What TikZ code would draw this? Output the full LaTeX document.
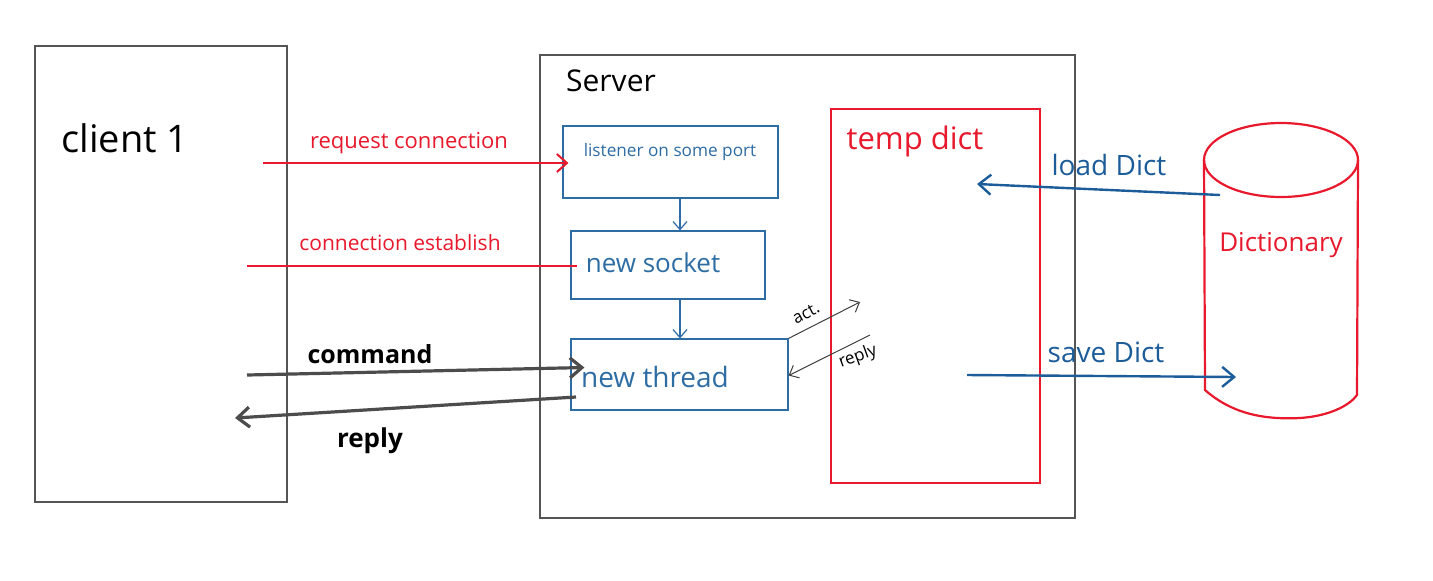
\documentclass[tikz,border=0pt]{standalone}
\usepackage{fontspec}
\setmainfont{Open Sans}
\usetikzlibrary{arrows.meta,fit,calc}
\definecolor{hred}{HTML}{E8192C}
\definecolor{hblue}{HTML}{2E6DA4}
\definecolor{dblue}{HTML}{1B5C99}
\definecolor{hgray}{HTML}{555555}
\newcommand{\myfs}[1]{\fontsize{#1}{#1}\selectfont}
\tikzset{
  frame/.style={draw=hgray, line width=0.6pt, inner sep=0pt},
  bluebox/.style={draw=hblue, line width=0.6pt, inner sep=0pt},
  redbox/.style={draw=hred, line width=1.1pt, inner sep=0pt},
  redarrow/.style={hred, line width=1pt, -{Straight Barb[length=5pt,width=9pt]}},
  redline/.style={hred, line width=1pt},
  bluearrow/.style={hblue, line width=0.6pt, -{Straight Barb[length=4pt,width=7pt]}},
  dictarrow/.style={dblue, line width=1.2pt, -{Straight Barb[length=6pt,width=10pt]}},
  grayarrow/.style={hgray!90!black, line width=1.6pt, -{Straight Barb[length=6pt,width=10pt]}},
  thinarrow/.style={black!75, line width=0.5pt, -{Straight Barb[length=4pt,width=7pt]}},
  lbl/.style={inner sep=0pt}
}
\begin{document}
\begin{tikzpicture}[x=0.5pt,y=-0.5pt]
\useasboundingbox (0,0) rectangle (1433,580);
\fill[white] (0,0) rectangle (1433,580);
% client
\node[frame, fit={(35,46) (287,502)}] (client) {};
\node[lbl, text=black] (clientlbl) at (125,138) {\myfs{19}client 1};
% server
\node[frame, fit={(540,55) (1075,518)}] (server) {};
\node[lbl, text=black] (serverlbl) at (611,81) {\myfs{15}Server};
% inner boxes
\node[bluebox, fit={(563,126) (778,198)}] (listener) {};
\node[lbl, text=hblue] (listenerlbl) at (670,152) {\myfs{8.6}listener on some port};
\node[bluebox, fit={(571,231) (765,299)}] (socket) {};
\node[lbl, text=hblue] (socketlbl) at (653,263) {\myfs{13}new socket};
\node[bluebox, fit={(571,339) (788,410)}] (thread) {};
\node[lbl, text=hblue] (threadlbl) at (655,377) {\myfs{14}new thread};
% temp dict
\node[redbox, fit={(831,109) (1040,483)}] (temp) {};
\node[lbl, text=hred] (templbl) at (915,141) {\myfs{15.5}temp dict};
% dictionary cylinder
\draw[hred, line width=1.1pt] (1281,160) ellipse [x radius=77, y radius=37];
\draw[hred, line width=1.1pt] (1204,160) -- (1205,390) .. controls (1230,412) and (1260,420) .. (1300,418) .. controls (1330,416) and (1350,405) .. (1357,395) -- (1358,160);
\node[lbl, text=hred] (dictlbl) at (1281,245) {\myfs{13}Dictionary};
% coordinates for free ends
\coordinate (reqs) at (263,163);
\coordinate (ests) at (247,266);
\coordinate (cmds) at (247,375);
\coordinate (repe) at (235,418);
\coordinate (reps) at (576,397);
\coordinate (acte) at (860,302);
\coordinate (rpls) at (870,335);
\coordinate (lds) at (1220,195);
\coordinate (lde) at (977,184);
\coordinate (svs) at (967,375);
\coordinate (sve) at (1236,377);
% client-server arrows
\draw[redarrow] (reqs) -- ($(listener.west)+(6,1)$);
\node[lbl, text=hred] (reqlbl) at (409,143) {\myfs{11}request connection};
\draw[redline] (ests) -- ($(socket.west)+(7,1)$);
\node[lbl, text=hred] (estlbl) at (400,243) {\myfs{10.5}connection establish};
\draw[grayarrow] (cmds) -- ($(thread.west)+(14,-7)$);
\node[lbl, text=black] (cmdlbl) at (370,354) {\myfs{12.5}\bfseries command};
\draw[grayarrow] (reps) -- (repe);
\node[lbl, text=black] (replbl) at (370,441) {\myfs{13}\bfseries reply};
% inner arrows
\draw[bluearrow] (listener.south -| 680,0) -- (socket.north -| 680,0);
\draw[bluearrow] (socket.south -| 680,0) -- (thread.north -| 680,0);
\draw[thinarrow] (thread.north east) -- (acte);
\node[lbl, text=black, rotate=28] (actlbl) at (806,313) {\myfs{8.5}act.};
\draw[thinarrow] (rpls) -- ($(thread.east)+(0,1)$);
\node[lbl, text=black, rotate=20] (rpllbl) at (858,357) {\myfs{8.5}reply};
% dict arrows
\draw[dictarrow] (lds) -- (lde);
\node[lbl, text=dblue] (ldlbl) at (1109,165) {\myfs{14}load Dict};
\draw[dictarrow] (svs) -- (sve);
\node[lbl, text=dblue] (svlbl) at (1106,352) {\myfs{14}save Dict};
\end{tikzpicture}
\end{document}
